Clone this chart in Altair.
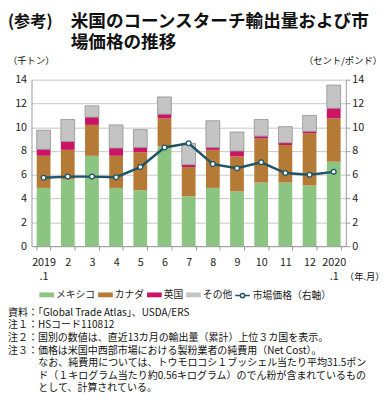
import altair as alt
import pandas as pd

months = ["2019|.1", "2", "3", "4", "5", "6", "7", "8", "9", "10", "11", "12", "2020|.1"]
mexico = [4.9, 5.6, 7.6, 4.9, 4.7, 8.4, 4.2, 4.9, 4.6, 5.35, 5.35, 5.1, 7.1]
canada = [2.7, 2.5, 2.6, 2.7, 3.2, 2.35, 2.45, 3.2, 2.95, 3.7, 3.15, 4.4, 3.65]
uk = [0.55, 0.7, 0.65, 0.65, 0.4, 0.35, 0.2, 0.2, 0.45, 0.2, 0.2, 0.15, 0.85]
other = [1.6, 1.85, 0.95, 1.95, 1.5, 1.45, 1.8, 2.25, 1.6, 1.4, 1.35, 1.35, 1.95]
price = [5.75, 5.85, 5.85, 5.8, 6.65, 8.3, 8.65, 6.9, 6.55, 7.05, 6.15, 6.0, 6.25]

countries = ["メキシコ", "カナダ", "英国", "その他"]
colors = ["#8cc482", "#b57a36", "#cc1467", "#c4c4c4"]
price_name = "市場価格（右軸）"
LINE = "#1f5566"
FONT = "Noto Sans CJK JP"

rows = []
for i, m in enumerate(months):
    for j, (c, vals) in enumerate(zip(countries, [mexico, canada, uk, other])):
        rows.append({"month": m, "country": c, "value": vals[i], "order": j})
bars_df = pd.DataFrame(rows)
price_df = pd.DataFrame({"month": months, "price": price, "series": [price_name] * len(months)})

x_enc = alt.X(
    "month:N", sort=months,
    scale=alt.Scale(paddingInner=0.43),
    axis=alt.Axis(title=None, labelExpr="split(datum.label, '|')", labelAngle=0,
                  tickBand="extent", ticks=True, tickSize=4, tickColor="#9a9a9a",
                  domainColor="#9a9a9a", labelFontSize=11, labelLineHeight=14,
                  labelPadding=7, labelColor="#222", labelFont=FONT),
)

right_axis = alt.Axis(title=None, orient="right", values=list(range(0, 15, 2)), grid=False,
                      ticks=True, tickSize=4, tickColor="#9a9a9a", domainColor="#9a9a9a",
                      labelPadding=2, labelFontSize=11, labelColor="#222", labelFont=FONT,
                      labelOverlap=False)

bars = alt.Chart(bars_df).mark_bar(strokeWidth=0.8).encode(
    x=x_enc,
    y=alt.Y("value:Q", stack="zero", scale=alt.Scale(domain=[0, 14]),
            axis=alt.Axis(title=None, values=list(range(0, 15, 2)), grid=True,
                          gridColor="#c6c6c6", ticks=False, domainColor="#9a9a9a",
                          labelPadding=5, labelFontSize=11, labelColor="#222", labelFont=FONT)),
    color=alt.Color("country:N", sort=countries,
                    scale=alt.Scale(domain=countries, range=colors),
                    legend=alt.Legend(title=None, orient="none", legendX=8, legendY=212,
                                      direction="horizontal",
                                      symbolType="M-1,-0.33H1V0.33H-1Z", symbolSize=225,
                                      symbolStrokeWidth=0, labelFontSize=10, labelFont=FONT,
                                      labelColor="#222", columnPadding=3, labelOffset=2)),
    order=alt.Order("order:Q", sort="ascending"),
    stroke=alt.condition(alt.datum.country == "その他", alt.value("#8f8f8f"), alt.value("transparent")),
)

line = alt.Chart(price_df).mark_line(strokeWidth=2.5).encode(
    x=alt.X("month:N", sort=months),
    y=alt.Y("price:Q", scale=alt.Scale(domain=[0, 14]), axis=right_axis),
    color=alt.Color("series:N", scale=alt.Scale(domain=[price_name], range=[LINE]),
                    legend=alt.Legend(title=None, orient="none", legendX=207, legendY=212,
                                      direction="horizontal",
                                      symbolType="M-1,0H-0.3M0.3,0H1M0.3,0A0.3,0.3,0,1,1,-0.3,0A0.3,0.3,0,1,1,0.3,0",
                                      symbolSize=225, symbolStrokeWidth=1.5, symbolFillColor="white",
                                      symbolStrokeColor=LINE, labelFontSize=10, labelFont=FONT,
                                      labelColor="#222", labelOffset=2)),
)

points = alt.Chart(price_df).mark_point(filled=True, fill="white", stroke=LINE, strokeWidth=1.3,
                                        size=24, opacity=1).encode(
    x=alt.X("month:N", sort=months),
    y=alt.Y("price:Q", scale=alt.Scale(domain=[0, 14]), axis=right_axis),
)


def txt(text, x, y, size, align="left", weight="normal", baseline="middle", line_height=None):
    kw = dict(align=align, baseline=baseline, font=FONT, fontSize=size,
              fontWeight=weight, color="#111")
    if line_height is not None:
        kw["lineHeight"] = line_height
    return alt.Chart(pd.DataFrame({"k": [0]})).mark_text(**kw).encode(
        x=alt.value(x), y=alt.value(y), text=alt.value(text))


notes_main = [
    "資料：「Global Trade Atlas」、USDA/ERS",
    "注１：HSコード110812",
    "注２：国別の数値は、直近13カ月の輸出量（累計）上位３カ国を表示。",
    "注３：価格は米国中西部市場における製粉業者の純費用（Net Cost）。",
]
notes_cont = [
    "なお、純費用については、トウモロコシ１ブッシェル当たり平均31.5ポン",
    "ド（１キログラム当たり約0.56キログラム）のでん粉が含まれているもの",
    "として、計算されている。",
]
LH = 12.9
NOTE_TOP = 233

texts = [
    txt("(参考)", -24, -59, 16.5, weight="bold"),
    txt("米国のコーンスターチ輸出量および市", 40, -59, 18, weight="bold"),
    txt("場価格の推移", 40, -37, 18, weight="bold"),
    txt("（千トン）", -24, -19, 9.5),
    txt("（セント/ポンド）", 358, -19, 9.5, align="right"),
    txt("（年.月）", 320, 202, 9.5),
    txt(notes_main, -24, NOTE_TOP, 10.2, baseline="top", line_height=LH),
    txt(notes_cont, 7, NOTE_TOP + 4 * LH, 10.2, baseline="top", line_height=LH),
]

chart = alt.layer(bars, alt.layer(line, points), *texts).resolve_scale(
    y="independent", color="independent"
).properties(
    width=321, height=170,
    autosize=alt.AutoSizeParams(type="none"),
    padding={"left": 24, "top": 69, "right": 39, "bottom": 158},
).configure_view(stroke=None)

chart.save("out.html", embed_options={"renderer": "svg", "actions": False})
